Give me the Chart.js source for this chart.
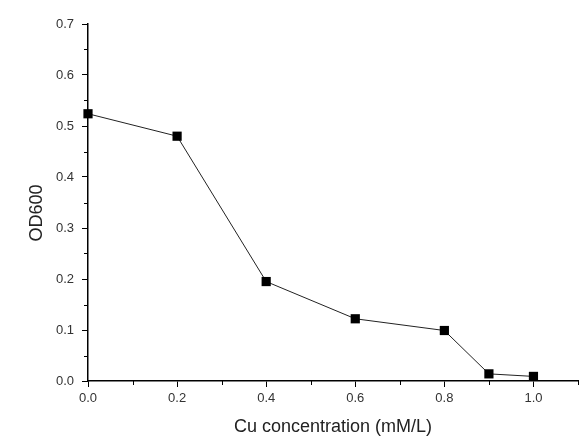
<!DOCTYPE html>
<html>
<head>
<meta charset="utf-8">
<script src="https://cdn.jsdelivr.net/npm/chart.js@4"></script>
<style>
  html, body { margin: 0; padding: 0; background: #fff; }
  #wrap { width: 586px; height: 447px; }
</style>
</head>
<body>
<div id="wrap"><canvas id="odChart" width="586" height="447"></canvas></div>
<script>
// Cu concentration (mM/L) vs OD600
const cuConc = [0.0, 0.2, 0.4, 0.6, 0.8, 0.9, 1.0];
const od600 = [0.524, 0.480, 0.195, 0.122, 0.099, 0.014, 0.009];

const xMajorTicks = [0.0, 0.2, 0.4, 0.6, 0.8, 1.0];
const xMinorTicks = [0.1, 0.3, 0.5, 0.7, 0.9, 1.1];
const yMajorTicks = [0.0, 0.1, 0.2, 0.3, 0.4, 0.5, 0.6, 0.7];
const yMinorTicks = [0.05, 0.15, 0.25, 0.35, 0.45, 0.55, 0.65];

const fontFamily = 'Liberation Sans, Arial, sans-serif';
const tickFont = { family: fontFamily, size: 13 };
const titleFont = { family: fontFamily, size: 18 };

// short outward ticks between the labelled ones, plus the y title
const extras = {
  id: 'extras',
  afterDraw(chart) {
    const c = chart.ctx;
    const xs = chart.scales.x, ys = chart.scales.y;
    c.save();
    c.strokeStyle = '#000';
    c.lineWidth = 1;
    c.beginPath();
    xMinorTicks.forEach(v => {
      const px = Math.round(xs.getPixelForValue(v)) + 0.5;
      c.moveTo(px, ys.bottom);
      c.lineTo(px, ys.bottom + 4);
    });
    yMinorTicks.forEach(v => {
      const py = Math.round(ys.getPixelForValue(v)) + 0.5;
      c.moveTo(xs.left, py);
      c.lineTo(xs.left - 4, py);
    });
    c.stroke();

    c.translate(37, 213);
    c.rotate(-Math.PI / 2);
    c.fillStyle = '#222';
    c.font = titleFont.size + 'px ' + fontFamily;
    c.textAlign = 'center';
    c.textBaseline = 'middle';
    c.fillText('OD600', 0, 0);
    c.restore();
  }
};

new Chart(document.getElementById('odChart'), {
  type: 'line',
  data: {
    datasets: [{
      data: cuConc.map((x, i) => ({ x: x, y: od600[i] })),
      borderColor: '#222',
      borderWidth: 1,
      pointStyle: 'rect',
      pointRadius: 6.5,
      pointHoverRadius: 6.5,
      pointBackgroundColor: '#000',
      pointBorderColor: '#000',
      pointBorderWidth: 0,
      tension: 0,
      clip: false
    }]
  },
  options: {
    responsive: false,
    animation: false,
    devicePixelRatio: 1,
    layout: { padding: { top: 24, right: 8, left: 0, bottom: 0 } },
    plugins: { legend: { display: false }, tooltip: { enabled: false } },
    scales: {
      x: {
        type: 'linear',
        min: 0,
        max: 1.1,
        afterBuildTicks: s => { s.ticks = xMajorTicks.map(v => ({ value: v })); },
        afterFit: s => { s.height = 66; },
        border: { display: true, color: '#000', width: 1.5 },
        grid: { drawOnChartArea: false, drawTicks: true, tickLength: 6, tickColor: '#000', tickWidth: 1 },
        ticks: {
          color: '#333',
          font: tickFont,
          padding: 4,
          maxRotation: 0,
          callback: v => Number(v).toFixed(1)
        },
        title: { display: true, text: 'Cu concentration (mM/L)', color: '#222', font: titleFont, padding: 9 }
      },
      y: {
        type: 'linear',
        min: 0,
        max: 0.7,
        afterBuildTicks: s => { s.ticks = yMajorTicks.map(v => ({ value: v })); },
        afterFit: s => { s.width = 88; },
        border: { display: true, color: '#000', width: 1.5 },
        grid: { drawOnChartArea: false, drawTicks: true, tickLength: 6, tickColor: '#000', tickWidth: 1 },
        ticks: {
          color: '#333',
          font: tickFont,
          padding: 8,
          callback: v => Number(v).toFixed(1)
        }
      }
    }
  },
  plugins: [extras]
});
</script>
</body>
</html>
